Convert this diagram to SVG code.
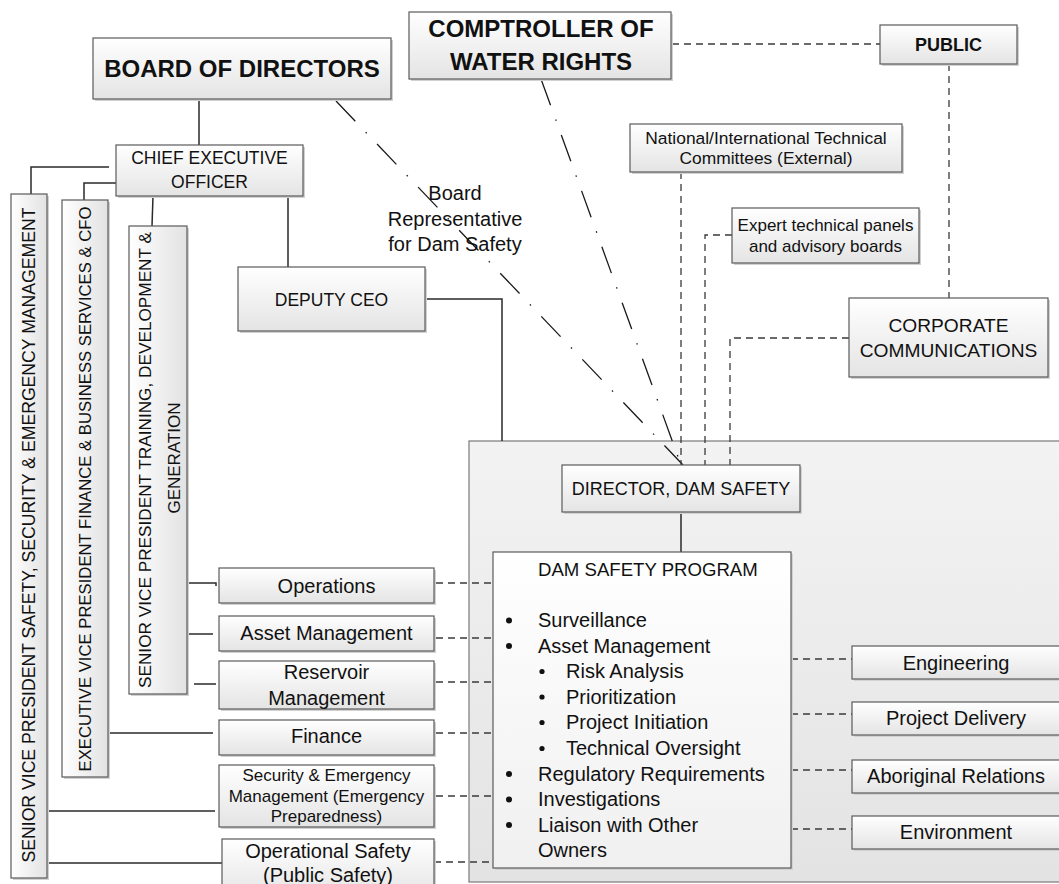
<svg xmlns="http://www.w3.org/2000/svg" width="1059" height="884" viewBox="0 0 1059 884">
<defs>
<linearGradient id="gv" x1="0" y1="0" x2="0" y2="1"><stop offset="0" stop-color="#ffffff"/><stop offset="1" stop-color="#e4e4e4"/></linearGradient>
<linearGradient id="gh" x1="0" y1="0" x2="1" y2="0"><stop offset="0" stop-color="#ffffff"/><stop offset="1" stop-color="#e2e2e2"/></linearGradient>
<linearGradient id="gc" x1="0" y1="0" x2="0" y2="1"><stop offset="0" stop-color="#f3f3f3"/><stop offset="1" stop-color="#e3e3e3"/></linearGradient>
<linearGradient id="gd" x1="0" y1="0" x2="0" y2="1"><stop offset="0" stop-color="#ffffff"/><stop offset="1" stop-color="#f0f0f0"/></linearGradient>
</defs>
<style>
.b{fill:url(#gv);stroke:#5a5a5a;stroke-width:1.2}
.bh{fill:url(#gh);stroke:#5a5a5a;stroke-width:1.2}
.sh{fill:#d2d2d2}
.t{font-family:"Liberation Sans",Arial,sans-serif;fill:#111;text-anchor:middle}
.l{font-family:"Liberation Sans",Arial,sans-serif;fill:#111}
.bd{font-weight:bold}
.s{fill:none;stroke:#2a2a2a;stroke-width:1.5}
.d{fill:none;stroke:#3a3a3a;stroke-width:1.3;stroke-dasharray:7 5}
.dd{fill:none;stroke:#1a1a1a;stroke-width:1.3;stroke-dasharray:28 15 1.5 15}
</style>
<rect width="1059" height="884" fill="#ffffff"/>

<g id="container">
<rect x="469" y="441" width="600" height="441" fill="url(#gc)" stroke="#7a7a7a" stroke-width="1.2"/>
</g>

<g id="connectors">
<path class="s" d="M199 99V145"/>
<path class="s" d="M109 167H31V194"/>
<path class="s" d="M116 183H84V200"/>
<path class="s" d="M153 196L152 226"/>
<path class="s" d="M288 196V267"/>
<path class="s" d="M425 299H502V441"/>
<path class="s" d="M681 512V552"/>
<path class="s" d="M188 583H216V586"/>
<path class="s" d="M188 634H213"/>
<path class="s" d="M194 684H216"/>
<path class="s" d="M108 733H213"/>
<path class="s" d="M47 811H215"/>
<path class="s" d="M47 863H222"/>
<path class="dd" d="M336 101L683 465"/>
<path class="dd" d="M541 79L681 465"/>
<path class="d" d="M672 44H880"/>
<path class="d" d="M949 64V298"/>
<path class="d" d="M681 172V465"/>
<path class="d" d="M732 235H705V465"/>
<path class="d" d="M849 338H730V465"/>
<path class="d" d="M436 583H493"/>
<path class="d" d="M436 638H493"/>
<path class="d" d="M436 682H493"/>
<path class="d" d="M436 733H493"/>
<path class="d" d="M436 796H493"/>
<path class="d" d="M434 862H493"/>
<path class="d" d="M791 659H852"/>
<path class="d" d="M791 714H852"/>
<path class="d" d="M791 770H852"/>
<path class="d" d="M791 829H852"/>
</g>

<g id="board">
<rect class="sh" x="95" y="40" width="298" height="61"/>
<rect class="b" x="93" y="38" width="298" height="61"/>
<text class="t bd" x="242" y="77" font-size="24">BOARD OF DIRECTORS</text>
</g>

<g id="comptroller">
<rect class="sh" x="411" y="14" width="262" height="67"/>
<rect class="b" x="409" y="12" width="262" height="67"/>
<text class="t bd" x="541" y="37" font-size="24">COMPTROLLER OF</text>
<text class="t bd" x="541" y="70" font-size="24">WATER RIGHTS</text>
</g>

<g id="public">
<rect class="sh" x="882" y="27" width="137" height="39"/>
<rect class="b" x="880" y="25" width="137" height="39"/>
<text class="t bd" x="948.5" y="51" font-size="18">PUBLIC</text>
</g>

<g id="ceo">
<rect class="sh" x="118" y="147" width="187" height="51"/>
<rect class="b" x="116" y="145" width="187" height="51"/>
<text class="t" x="209.5" y="164" font-size="17.5">CHIEF EXECUTIVE</text>
<text class="t" x="209.5" y="188" font-size="17.5">OFFICER</text>
</g>

<g id="board-rep-label">
<text class="t" x="455" y="200" font-size="20">Board</text>
<text class="t" x="455" y="226" font-size="20">Representative</text>
<text class="t" x="455" y="251" font-size="20">for Dam Safety</text>
</g>

<g id="deputy">
<rect class="sh" x="240" y="269" width="187" height="64"/>
<rect class="b" x="238" y="267" width="187" height="64"/>
<text class="t" x="331.5" y="306" font-size="17.5">DEPUTY CEO</text>
</g>

<g id="national">
<rect class="sh" x="632" y="126" width="272" height="48"/>
<rect class="b" x="630" y="124" width="272" height="48"/>
<text class="t" x="766" y="144" font-size="17.4">National/International Technical</text>
<text class="t" x="766" y="164" font-size="17.4">Committees (External)</text>
</g>

<g id="expert">
<rect class="sh" x="734" y="210" width="187" height="55"/>
<rect class="b" x="732" y="208" width="187" height="55"/>
<text class="t" x="825.5" y="231" font-size="17">Expert technical panels</text>
<text class="t" x="825.5" y="252" font-size="17">and advisory boards</text>
</g>

<g id="corpcomm">
<rect class="sh" x="851" y="300" width="199" height="79"/>
<rect class="b" x="849" y="298" width="199" height="79"/>
<text class="t" x="948.5" y="332" font-size="19.2">CORPORATE</text>
<text class="t" x="948.5" y="357" font-size="19.2">COMMUNICATIONS</text>
</g>

<g id="director">
<rect class="sh" x="564" y="467" width="238" height="47"/>
<rect class="b" x="562" y="465" width="238" height="47"/>
<text class="t" x="681" y="495" font-size="18">DIRECTOR, DAM SAFETY</text>
</g>

<g id="dsp">
<rect class="sh" x="495" y="554" width="298" height="316"/>
<rect x="493" y="552" width="298" height="316" fill="url(#gd)" stroke="#5a5a5a" stroke-width="1.2"/>
<text class="l" x="538" y="576" font-size="18.6">DAM SAFETY PROGRAM</text>
<g fill="#111">
<circle cx="509" cy="620.5" r="3"/>
<circle cx="509" cy="646" r="3"/>
<circle cx="542" cy="671.5" r="2.6"/>
<circle cx="542" cy="697" r="2.6"/>
<circle cx="542" cy="722.5" r="2.6"/>
<circle cx="542" cy="748.5" r="2.6"/>
<circle cx="509" cy="774" r="3"/>
<circle cx="509" cy="799.5" r="3"/>
<circle cx="509" cy="825" r="3"/>
</g>
<text class="l" x="538" y="627" font-size="20">Surveillance</text>
<text class="l" x="538" y="652.5" font-size="20">Asset Management</text>
<text class="l" x="566" y="678" font-size="20">Risk Analysis</text>
<text class="l" x="566" y="703.5" font-size="20">Prioritization</text>
<text class="l" x="566" y="729" font-size="20">Project Initiation</text>
<text class="l" x="566" y="755" font-size="20">Technical Oversight</text>
<text class="l" x="538" y="780.5" font-size="20">Regulatory Requirements</text>
<text class="l" x="538" y="806" font-size="20">Investigations</text>
<text class="l" x="538" y="831.5" font-size="20">Liaison with Other</text>
<text class="l" x="538" y="857" font-size="20">Owners</text>
</g>

<g id="svp-safety">
<rect class="sh" x="13" y="196" width="36" height="684"/>
<rect class="bh" x="11" y="194" width="36" height="684"/>
<text class="t" transform="translate(35,535) rotate(-90)" font-size="17.5" textLength="655" lengthAdjust="spacingAndGlyphs">SENIOR VICE PRESIDENT SAFETY, SECURITY &amp; EMERGENCY MANAGEMENT</text>
</g>

<g id="evp-finance">
<rect class="sh" x="64" y="202" width="46" height="577"/>
<rect class="bh" x="62" y="200" width="46" height="577"/>
<text class="t" transform="translate(91,489) rotate(-90)" font-size="16.7" textLength="565" lengthAdjust="spacingAndGlyphs">EXECUTIVE VICE PRESIDENT FINANCE &amp; BUSINESS SERVICES &amp; CFO</text>
</g>

<g id="svp-training">
<rect class="sh" x="131" y="228" width="58" height="468"/>
<rect class="bh" x="129" y="226" width="58" height="468"/>
<text class="t" transform="translate(151,460) rotate(-90)" font-size="17" textLength="456" lengthAdjust="spacingAndGlyphs">SENIOR VICE PRESIDENT TRAINING, DEVELOPMENT &amp;</text>
<text class="t" transform="translate(180,458) rotate(-90)" font-size="17">GENERATION</text>
</g>

<g id="operations">
<rect class="sh" x="221" y="570" width="215" height="35"/>
<rect class="b" x="219" y="568" width="215" height="35"/>
<text class="t" x="326.5" y="593" font-size="20">Operations</text>
</g>

<g id="asset-management">
<rect class="sh" x="221" y="618" width="215" height="35"/>
<rect class="b" x="219" y="616" width="215" height="35"/>
<text class="t" x="326.5" y="640" font-size="20">Asset Management</text>
</g>

<g id="reservoir">
<rect class="sh" x="221" y="663" width="215" height="48"/>
<rect class="b" x="219" y="661" width="215" height="48"/>
<text class="t" x="326.5" y="679" font-size="20">Reservoir</text>
<text class="t" x="326.5" y="705" font-size="20">Management</text>
</g>

<g id="finance">
<rect class="sh" x="221" y="722" width="215" height="35"/>
<rect class="b" x="219" y="720" width="215" height="35"/>
<text class="t" x="326.5" y="743" font-size="20">Finance</text>
</g>

<g id="security">
<rect class="sh" x="221" y="767" width="215" height="62"/>
<rect class="b" x="219" y="765" width="215" height="62"/>
<text class="t" x="326.5" y="781" font-size="17">Security &amp; Emergency</text>
<text class="t" x="326.5" y="802" font-size="17">Management (Emergency</text>
<text class="t" x="326.5" y="822" font-size="17">Preparedness)</text>
</g>

<g id="operational-safety">
<rect class="sh" x="224" y="841" width="212" height="60"/>
<rect class="b" x="222" y="839" width="212" height="60"/>
<text class="t" x="328" y="858" font-size="20">Operational Safety</text>
<text class="t" x="328" y="882" font-size="20">(Public Safety)</text>
</g>

<g id="engineering">
<rect class="sh" x="854" y="648" width="215" height="33"/>
<rect class="b" x="852" y="646" width="215" height="33"/>
<text class="t" x="956" y="670" font-size="20">Engineering</text>
</g>

<g id="project-delivery">
<rect class="sh" x="854" y="704" width="215" height="33"/>
<rect class="b" x="852" y="702" width="215" height="33"/>
<text class="t" x="956" y="725" font-size="20">Project Delivery</text>
</g>

<g id="aboriginal">
<rect class="sh" x="854" y="762" width="215" height="33"/>
<rect class="b" x="852" y="760" width="215" height="33"/>
<text class="t" x="956" y="783" font-size="20">Aboriginal Relations</text>
</g>

<g id="environment">
<rect class="sh" x="854" y="818" width="215" height="33"/>
<rect class="b" x="852" y="816" width="215" height="33"/>
<text class="t" x="956" y="839" font-size="20">Environment</text>
</g>
</svg>
